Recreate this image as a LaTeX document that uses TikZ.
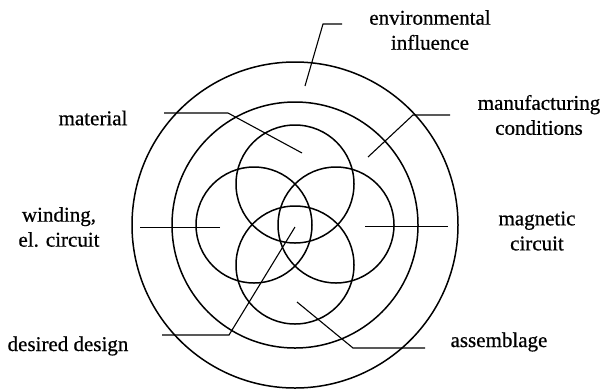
\documentclass[tikz,border=0pt]{standalone}
\usepackage{fontspec}
\setmainfont{Liberation Serif}
\newfontfamily\lblfont[FakeBold=0.6]{Liberation Serif}
\begin{document}
\begin{tikzpicture}[x=1pt,y=-1pt,
  ring/.style={line width=1.5pt},
  leader/.style={line width=1.1pt},
  lbl/.style={font=\lblfont\fontsize{21}{25}\selectfont, align=center, inner sep=0pt}]
\useasboundingbox (0,0) rectangle (604,389);
% circles
\draw[ring] (295,225) circle[radius=163];
\draw[ring] (295,225) circle[radius=123];
\draw[ring] (295,184) circle[radius=59];
\draw[ring] (295,265) circle[radius=59];
\draw[ring] (254,225) circle[radius=58];
\draw[ring] (336,225) circle[radius=58];
% labels
\node[lbl] (env) at (430,30) {environmental\\influence};
\node[lbl] (man) at (539,115) {manufacturing\\conditions};
\node[lbl] (mag) at (537,231) {magnetic\\circuit};
\node[lbl] (ass) at (499,342) {assemblage};
\node[lbl] (mat) at (93,118) {material};
\node[lbl] (win) at (59,227) {winding,\\el. circuit};
\node[lbl] (des) at (68,346) {desired design};
% leader coordinates
\coordinate (envA) at (305,86);  \coordinate (envB) at (323,24);  \coordinate (envC) at (342,24);
\coordinate (matA) at (302,153); \coordinate (matB) at (228,113); \coordinate (matC) at (164,113);
\coordinate (manA) at (368,157); \coordinate (manB) at (413,115); \coordinate (manC) at (450,115);
\coordinate (magA) at (365,226.5); \coordinate (magC) at (448,226.5);
\coordinate (winA) at (220,227.5); \coordinate (winC) at (140,227.5);
\coordinate (desA) at (295,227); \coordinate (desB) at (229,335); \coordinate (desC) at (162,335);
\coordinate (assA) at (297,302); \coordinate (assB) at (353,348); \coordinate (assC) at (425,348);
% leaders
\draw[leader] (envA) -- (envB) -- (envC);
\draw[leader] (matA) -- (matB) -- (matC);
\draw[leader] (manA) -- (manB) -- (manC);
\draw[leader] (magA) -- (magC);
\draw[leader] (winA) -- (winC);
\draw[leader] (desA) -- (desB) -- (desC);
\draw[leader] (assA) -- (assB) -- (assC);
\end{tikzpicture}
\end{document}
